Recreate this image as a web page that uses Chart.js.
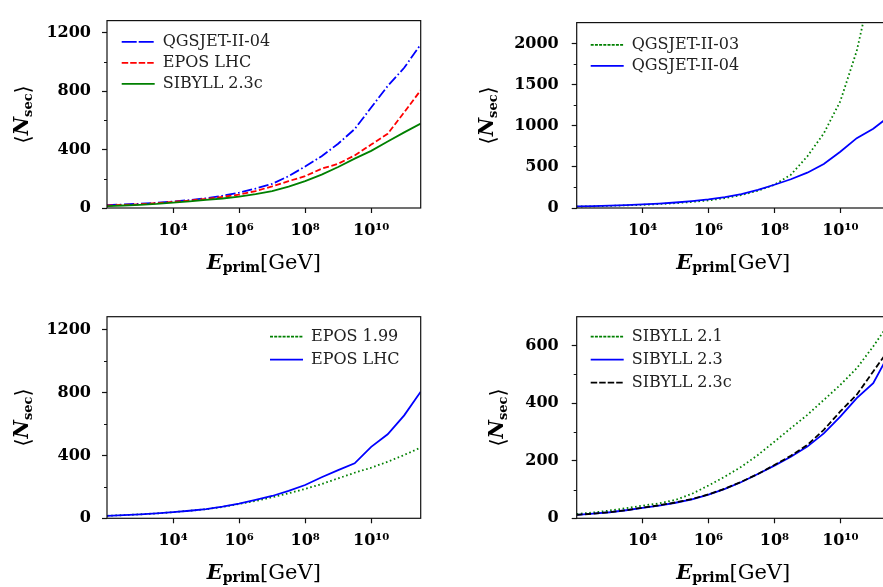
<!DOCTYPE html>
<html><head><meta charset="utf-8">
<script src="https://cdn.jsdelivr.net/npm/chart.js@4.4.0/dist/chart.umd.min.js"></script>
<style>
html,body{margin:0;padding:0;background:#fff;overflow:hidden;width:883px;height:587px;position:relative;}
.box{position:absolute;}
</style></head><body>
<div class="box" style="left:0;top:0;width:440px;height:293px"><canvas id="c1"></canvas></div>
<div class="box" style="left:440px;top:0;width:460px;height:293px"><canvas id="c2"></canvas></div>
<div class="box" style="left:0;top:293px;width:440px;height:294px"><canvas id="c3"></canvas></div>
<div class="box" style="left:440px;top:293px;width:460px;height:294px"><canvas id="c4"></canvas></div>
<script>
// ---- data ----
const energyGeV = [1e2, 3.16e2, 1e3, 3.16e3, 1e4, 3.16e4, 1e5, 3.16e5, 1e6, 3.16e6, 1e7, 3.16e7, 1e8, 3.16e8, 1e9, 3.16e9, 1e10, 3.16e10, 1e11, 3.16e11];

const tlQgsjet04   = [19, 24, 29, 36, 44, 54, 67, 84, 105, 133, 165, 218, 284, 355, 440, 540, 688, 835, 960, 1120];
const tlEposLhc    = [17, 21, 26, 33, 42, 51, 62, 76, 91, 116, 148, 184, 218, 269, 303, 360, 434, 508, 655, 806];
const tlSibyll23c  = [13, 17, 22, 28, 37, 45, 55, 65, 78, 95, 116, 146, 184, 229, 281, 338, 391, 455, 518, 578];

const trQgsjet03   = [17, 21, 26, 32, 39, 48, 59, 74, 93, 120, 158, 210, 283, 405, 629, 908, 1299, 1913, 2800, 3900];
const trQgsjet04   = [19, 24, 29, 36, 44, 54, 67, 84, 105, 133, 168, 220, 283, 350, 430, 536, 685, 850, 965, 1120];

const blEpos199    = [16, 20, 25, 31, 39, 48, 58, 72, 91, 110, 134, 159, 187, 218, 254, 290, 322, 360, 403, 450];
const blEposLhc    = [16, 20, 25, 31, 39, 48, 59, 74, 93, 117, 142, 174, 212, 261, 307, 350, 455, 535, 655, 806];

const brSibyll21   = [15, 20, 27, 35, 44, 52, 64, 85, 114, 145, 179, 220, 266, 313, 359, 411, 463, 521, 597, 680];
const brSibyll23   = [12, 16, 21, 28, 36, 44, 54, 66, 82, 102, 126, 154, 183, 214, 249, 295, 353, 417, 469, 575];
const brSibyll23c  = [12, 16, 21, 28, 37, 45, 55, 67, 83, 103, 127, 154, 185, 217, 255, 307, 371, 429, 510, 590];

const xTickValues = [1e4, 1e6, 1e8, 1e10];
const xTickLabels = ['10\u2074', '10\u2076', '10\u2078', '10\u00B9\u2070'];
const yTicksA = [0, 400, 800, 1200];        const yMinorA = [200, 600, 1000];
const yTicksB = [0, 500, 1000, 1500, 2000]; const yMinorB = [250, 750, 1250, 1750];
const yTicksC = [0, 200, 400, 600];         const yMinorC = [100, 300, 500];

const xTitleParts = ['E', 'prim', '[GeV]'];
const yTitleParts = ['\u27E8', 'N', 'sec', '\u27E9'];

// ---- styles ----
const SERIF = '"DejaVu Serif", "DejaVu Sans", serif';
Chart.defaults.font.family = SERIF;
Chart.defaults.color = '#000';
const LW = 1.8;
const DASH = [5.9, 2.6], DOT = [1.6, 2.6], DASHDOT = [10.2, 2.6, 1.6, 2.6];

function pts(vals) { return energyGeV.map((e, i) => ({x: e, y: vals[i]})); }
function ds(label, vals, color, dash, i) {
  return { label, data: pts(vals), borderColor: color, backgroundColor: 'rgba(0,0,0,0)',
    borderWidth: LW, borderDash: dash, pointRadius: 0, tension: 0, fill: false, order: -i };
}

// ---- plugins ----
const framePlugin = {
  id: 'frame',
  afterDatasetsDraw(chart) {
    const {ctx, chartArea: a} = chart;
    ctx.save();
    ctx.strokeStyle = '#111'; ctx.lineWidth = 1.2;
    ctx.strokeRect(a.left, a.top, a.right - a.left, a.bottom - a.top);
    ctx.restore();
  }
};
const minorPlugin = {
  id: 'minorTicks',
  afterDraw(chart, args, opts) {
    const {ctx, chartArea: a} = chart;
    const y = chart.scales.y;
    ctx.save();
    ctx.strokeStyle = '#111'; ctx.lineWidth = 1;
    (opts.values || []).forEach(v => {
      const p = Math.round(y.getPixelForValue(v)) + 0.5;
      ctx.beginPath(); ctx.moveTo(a.left - 3, p); ctx.lineTo(a.left, p); ctx.stroke();
    });
    ctx.restore();
  }
};
function drawParts(ctx, parts, cx, baseY) {
  let w = 0;
  parts.forEach(p => { ctx.font = p.f; p.w = ctx.measureText(p.t).width; w += p.w; });
  let x = cx - w / 2;
  parts.forEach(p => { ctx.font = p.f; ctx.fillText(p.t, x, baseY + p.dy); x += p.w; });
}
const titlePlugin = {
  id: 'axisTitles',
  afterDraw(chart, args, opts) {
    const {ctx, chartArea: a} = chart;
    ctx.save();
    ctx.fillStyle = '#000';
    ctx.textBaseline = 'alphabetic';
    ctx.textAlign = 'left';
    const xp = [
      {t: xTitleParts[0], f: 'bold italic 21px ' + SERIF, dy: 0},
      {t: xTitleParts[1], f: 'bold 14px ' + SERIF, dy: 3},
      {t: xTitleParts[2], f: '21px ' + SERIF, dy: 0}
    ];
    drawParts(ctx, xp, (a.left + a.right) / 2, a.bottom + opts.xOffset);
    ctx.translate(a.left - opts.yOffset, (a.top + a.bottom) / 2);
    ctx.rotate(-Math.PI / 2);
    const yp = [
      {t: yTitleParts[0], f: '21px ' + SERIF, dy: 2},
      {t: yTitleParts[1], f: 'bold italic 20px ' + SERIF, dy: 0},
      {t: yTitleParts[2], f: 'bold 13px ' + SERIF, dy: 4},
      {t: yTitleParts[3], f: '21px ' + SERIF, dy: 2}
    ];
    drawParts(ctx, yp, 0, 0);
    ctx.restore();
  }
};
const legendShift = {
  id: 'legendShift',
  afterLayout(chart, args, opts) {
    const lg = chart.legend;
    if (!lg) return;
    lg.left = chart.chartArea.left + opts.dx;
    lg.top = chart.chartArea.top + opts.dy;
  }
};

function makeChart(id, cfg) {
  const axisTick = {drawOnChartArea: false, drawTicks: true, tickLength: 5, tickColor: '#111', tickWidth: 1.2};
  return new Chart(document.getElementById(id), {
    type: 'line',
    data: {datasets: cfg.datasets},
    plugins: [framePlugin, minorPlugin, titlePlugin, legendShift],
    options: {
      responsive: true, maintainAspectRatio: false, animation: false,
      layout: {padding: cfg.padding},
      scales: {
        x: {
          type: 'logarithmic', min: 100, max: 3.16e11,
          grid: axisTick, border: {display: false},
          afterBuildTicks: s => { s.ticks = xTickValues.map(v => ({value: v})); },
          afterFit: s => { s.height = cfg.xHeight; },
          ticks: {autoSkip: false, maxRotation: 0, padding: 8, color: '#000',
            font: {family: SERIF, size: 16, weight: 'bold'},
            callback: (v, i) => xTickLabels[i]}
        },
        y: {
          type: 'linear', min: 0, max: cfg.ymax,
          grid: axisTick, border: {display: false},
          afterBuildTicks: s => { s.ticks = cfg.yTicks.map(v => ({value: v})); },
          afterFit: s => { s.width = cfg.yWidth; },
          ticks: {autoSkip: false, padding: cfg.yPad, color: '#000',
            font: {family: SERIF, size: 16, weight: 'bold'},
            callback: v => String(v)}
        }
      },
      plugins: {
        tooltip: {enabled: false},
        legend: {
          display: true, position: 'chartArea', align: 'start', fullSize: false,
          labels: {boxWidth: 33, boxHeight: 0, padding: cfg.legPad, color: '#222',
            font: {family: SERIF, size: 16},
            sort: (a, b) => a.datasetIndex - b.datasetIndex}
        },
        legendShift: {dx: cfg.legDx, dy: cfg.legDy},
        minorTicks: {values: cfg.yMinor},
        axisTitles: {xOffset: 61, yOffset: cfg.yTitleOff}
      }
    }
  });
}

makeChart('c1', {
  datasets: [
    ds('QGSJET-II-04', tlQgsjet04, '#0000ff', DASHDOT, 0),
    ds('EPOS LHC', tlEposLhc, '#ff0000', DASH, 1),
    ds('SIBYLL 2.3c', tlSibyll23c, '#008000', [], 2)
  ],
  padding: {left: 0, top: 6, right: 19.3, bottom: 0}, xHeight: 85, yWidth: 107,
  ymax: 1283, yTicks: yTicksA, yMinor: yMinorA, yPad: 11,
  legPad: 5, legDx: 9.7, legDy: 8.3, yTitleOff: 79
});
makeChart('c2', {
  datasets: [
    ds('QGSJET-II-03', trQgsjet03, '#008000', DOT, 0),
    ds('QGSJET-II-04', trQgsjet04, '#0000ff', [], 1)
  ],
  padding: {left: 0, top: 6, right: 10.3, bottom: 0}, xHeight: 85, yWidth: 136.7,
  ymax: 2257, yTicks: yTicksB, yMinor: yMinorB, yPad: 13,
  legPad: 5, legDx: 9, legDy: 9.3, yTitleOff: 84
});
makeChart('c3', {
  datasets: [
    ds('EPOS 1.99', blEpos199, '#008000', DOT, 0),
    ds('EPOS LHC', blEposLhc, '#0000ff', [], 1)
  ],
  padding: {left: 0, top: 23.7, right: 19.3, bottom: 0}, xHeight: 68.7, yWidth: 107,
  ymax: 1283, yTicks: yTicksA, yMinor: yMinorA, yPad: 11,
  legPad: 7, legDx: 156, legDy: 5, yTitleOff: 79
});
makeChart('c4', {
  datasets: [
    ds('SIBYLL 2.1', brSibyll21, '#008000', DOT, 0),
    ds('SIBYLL 2.3', brSibyll23, '#0000ff', [], 1),
    ds('SIBYLL 2.3c', brSibyll23c, '#000000', DASH, 2)
  ],
  padding: {left: 0, top: 23.7, right: 10.3, bottom: 0}, xHeight: 68.7, yWidth: 136.7,
  ymax: 700, yTicks: yTicksC, yMinor: yMinorC, yPad: 13,
  legPad: 7, legDx: 7, legDy: 5, yTitleOff: 74
});
</script>
</body></html>
